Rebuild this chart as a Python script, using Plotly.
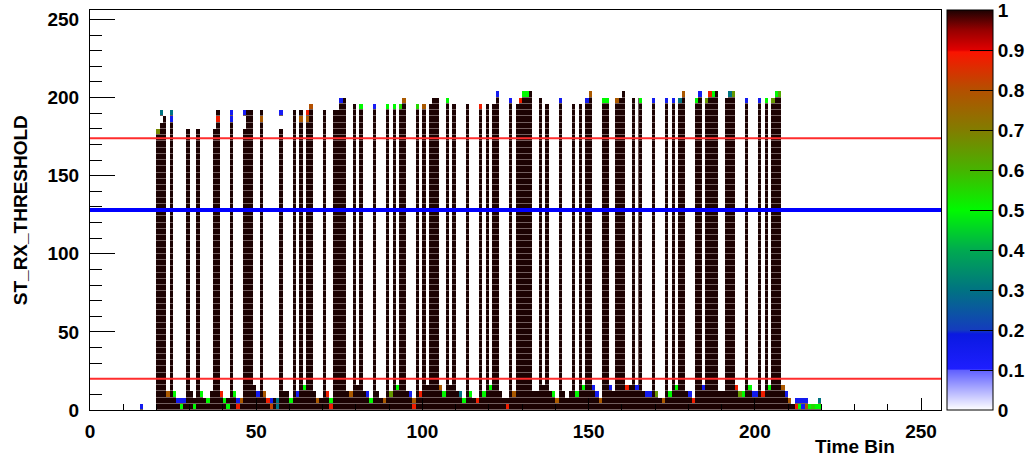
import plotly.graph_objects as go

# ---------------- data ----------------
N_TIME_BINS = 256
N_THR_BINS = 64          # threshold axis 0..256 in bins of 4
THR_BIN = 4

# tall columns: time bin and the height (threshold units) up to which occupancy == 1
col_bins = [20, 21, 22, 24, 29, 32, 37, 38, 42, 46, 47, 48, 51, 57, 61, 63, 65, 66, 70,
            73, 74, 75, 76, 79, 81, 85, 89, 91, 93, 94, 98, 100, 102, 103, 104, 107, 109,
            113, 117, 119, 121, 122, 126, 128, 129, 130, 131, 132, 135, 137, 141, 145, 147,
            149, 150, 154, 155, 158, 159, 160, 163, 165, 169, 173, 175, 177, 178, 182, 183,
            185, 186, 187, 188, 191, 192, 193, 197, 201, 203, 205, 206, 207]
col_tops = [176, 184, 188, 184, 180, 180, 180, 184, 184, 180, 192, 192, 184, 180, 192, 184, 184, 192, 192,
            192, 192, 196, 200, 196, 192, 192, 192, 192, 192, 196, 192, 192, 196, 200, 200, 196, 196,
            196, 192, 196, 196, 200, 196, 196, 196, 200, 200, 204, 200, 196, 196, 196, 196,
            196, 200, 196, 196, 196, 200, 204, 200, 196, 196, 196, 196, 196, 200, 196, 200,
            196, 200, 200, 204, 200, 200, 200, 196, 196, 196, 196, 200, 200]

# low "floor" between the columns: time bin and height with occupancy == 1
floor_bins = [23, 25, 26, 27, 28, 30, 31, 33, 34, 35, 36, 39, 40, 41, 43, 44, 45, 49, 50, 52,
              53, 54, 55, 56, 58, 59, 60, 62, 64, 67, 68, 69, 71, 72, 77, 78, 80, 82, 83, 84,
              86, 87, 88, 90, 92, 95, 96, 97, 99, 101, 105, 106, 108, 110, 111, 112, 114, 115,
              116, 118, 120, 123, 124, 125, 127, 133, 134, 136, 138, 139, 140, 142, 143, 144,
              146, 148, 151, 152, 153, 156, 157, 161, 162, 164, 166, 167, 168, 170, 171, 172,
              174, 176, 179, 180, 181, 184, 189, 190, 194, 195, 196, 198, 199, 200, 202, 204,
              208, 209, 210, 211]
floor_tops = [8, 8, 4, 4, 4, 12, 8, 8, 8, 4, 12, 8, 4, 8, 8, 4, 4, 16, 8, 8,
              4, 4, 8, 0, 12, 12, 4, 8, 12, 12, 4, 8, 8, 4, 12, 8, 16, 12, 8, 4,
              12, 8, 4, 8, 12, 12, 8, 4, 8, 16, 12, 8, 16, 12, 8, 4, 8, 8,
              4, 8, 12, 12, 8, 8, 8, 12, 12, 16, 12, 8, 4, 12, 8, 12,
              8, 12, 12, 8, 4, 12, 12, 12, 16, 12, 12, 8, 8, 8, 8, 4,
              8, 12, 12, 8, 4, 12, 12, 12, 12, 8, 8, 12, 8, 8, 8, 12,
              12, 8, 4, 4]

# individual cells with fractional occupancy: time bin, lower threshold edge, value
cell_bins = [20, 21, 24, 24, 38, 38, 42, 42, 46, 51, 51, 57, 63, 63, 65, 65, 66, 75, 81, 85,
             89, 91, 93, 94, 98, 100, 107, 117, 122, 126, 129, 130, 131, 141, 149, 150, 154,
             155, 158, 165, 169, 173, 175, 177, 178, 182, 183, 185, 186, 187, 192, 193, 197,
             201, 203, 205, 206, 207,
             15, 23, 25, 26, 27, 28, 27, 31, 33, 35, 39, 40, 41, 43, 44, 45, 44, 50, 52, 53,
             54, 54, 56, 56, 60, 62, 64, 68, 71, 72, 72, 78, 83, 84, 88, 90, 92, 96, 97, 97,
             99, 105, 106, 111, 112, 114, 116, 118, 120, 125, 127, 139, 140, 146, 148, 151,
             152, 153, 156, 161, 164, 167, 168, 170, 172, 174, 176, 180, 181, 184, 194, 195,
             196, 198, 199, 200, 202, 204, 208, 209, 210, 212, 213, 214, 215, 219, 212, 213,
             214, 215, 216, 217, 218, 219]
cell_ys = [176, 188, 184, 188, 184, 188, 184, 188, 188, 184, 188, 188, 184, 188, 184, 188, 192, 196, 192, 192,
           192, 192, 192, 196, 192, 192, 196, 192, 200, 196, 196, 200, 200, 196, 196, 200, 196,
           196, 196, 196, 196, 196, 196, 196, 200, 196, 200, 196, 200, 200, 200, 200, 196,
           196, 196, 196, 200, 200,
           0, 8, 8, 4, 4, 4, 0, 0, 8, 4, 8, 4, 0, 8, 4, 4, 0, 8, 8, 4,
           4, 0, 4, 0, 4, 8, 12, 4, 8, 4, 0, 8, 8, 4, 4, 8, 12, 8, 4, 0,
           8, 12, 8, 8, 4, 8, 4, 8, 12, 0, 8, 8, 4, 8, 12, 12,
           8, 4, 12, 12, 12, 8, 8, 8, 4, 8, 12, 8, 4, 12, 12, 8,
           8, 12, 8, 8, 8, 12, 12, 8, 4, 4, 4, 4, 4, 4, 0, 0,
           0, 0, 0, 0, 0, 0]
cell_vals = [0.68, 0.3, 0.15, 0.3, 0.88, 1.0, 0.15, 0.15, 0.13, 0.78, 1.0, 0.13, 0.78, 1.0, 0.78, 0.88, 0.8, 0.15, 0.5, 0.13,
             0.5, 0.5, 0.55, 0.78, 0.55, 0.78, 0.5, 0.88, 0.15, 0.13, 0.88, 0.5, 0.5, 0.15, 0.15, 0.78, 0.5,
             0.5, 0.78, 0.5, 0.15, 0.15, 0.15, 0.3, 0.78, 0.5, 0.15, 0.65, 0.88, 0.5, 0.3, 0.65, 0.15,
             0.15, 0.5, 0.65, 0.5, 0.62,
             0.15, 0.78, 0.5, 0.15, 0.15, 0.15, 0.5, 0.5, 0.5, 0.5, 0.88, 0.5, 0.5, 0.5, 0.15, 0.78, 0.88, 0.15, 0.78, 0.88,
             0.15, 0.82, 0.3, 0.3, 0.5, 0.15, 0.5, 0.78, 0.88, 0.5, 0.88, 0.78, 0.15, 0.5, 0.78, 0.65, 0.5, 0.15, 0.78, 0.88,
             0.88, 0.78, 0.5, 0.3, 0.5, 0.5, 0.88, 0.5, 0.5, 0.88, 0.78, 0.5, 0.78, 0.5, 0.5, 0.15,
             0.15, 0.78, 0.15, 0.88, 0.15, 0.15, 0.15, 0.65, 0.78, 0.5, 0.5, 0.15, 0.88, 0.15, 0.88, 0.65,
             0.5, 0.5, 0.15, 0.15, 0.88, 0.5, 0.78, 0.15, 0.78, 0.15, 0.15, 0.15, 0.15, 0.3, 0.88, 0.5,
             0.15, 0.78, 0.5, 0.55, 0.5, 0.5]

red_thresholds = [20, 174]
blue_threshold = 128

x_ticks = [0, 50, 100, 150, 200, 250]
y_ticks = [0, 50, 100, 150, 200, 250]
z_ticks = [0, 0.1, 0.2, 0.3, 0.4, 0.5, 0.6, 0.7, 0.8, 0.9, 1]
z_ticktext = ["0", "0.1", "0.2", "0.3", "0.4", "0.5", "0.6", "0.7", "0.8", "0.9", "1"]

# ---------------- build histogram ----------------
z = [[None] * N_TIME_BINS for _ in range(N_THR_BINS)]
for b, t in zip(floor_bins, floor_tops):
    for r in range(t // THR_BIN):
        z[r][b] = 1.0
for b, t in zip(col_bins, col_tops):
    for r in range(t // THR_BIN):
        z[r][b] = 1.0
for b, y, v in zip(cell_bins, cell_ys, cell_vals):
    z[y // THR_BIN][b] = v
# occupancy mask used as a faint underlay (gives the thin row seams of the original)
mask = [[(1 if v is not None else None) for v in row] for row in z]

colorscale = [
    [0.0, "rgb(255,255,255)"],
    [0.1, "rgb(95,95,255)"],
    [0.102, "rgb(30,30,255)"],
    [0.19, "rgb(10,25,225)"],
    [0.2, "rgb(20,60,190)"],
    [0.3, "rgb(0,115,130)"],
    [0.4, "rgb(0,170,80)"],
    [0.5, "rgb(0,250,0)"],
    [0.6, "rgb(70,180,0)"],
    [0.7, "rgb(130,125,0)"],
    [0.8, "rgb(180,80,0)"],
    [0.895, "rgb(250,20,0)"],
    [0.9, "rgb(225,0,0)"],
    [0.95, "rgb(150,0,0)"],
    [1.0, "rgb(28,2,2)"],
]

FONT = "Liberation Sans"
fig = go.Figure()
fig.add_trace(go.Heatmap(
    z=mask, x0=0.5, dx=1, y0=THR_BIN / 2, dy=THR_BIN, zmin=0, zmax=1,
    colorscale=[[0, "rgb(115,95,95)"], [1, "rgb(115,95,95)"]],
    showscale=False, hoverinfo="skip", zsmooth=False,
))
fig.add_trace(go.Heatmap(
    z=z, x0=0.5, dx=1, y0=THR_BIN / 2, dy=THR_BIN, ygap=1,
    zmin=0, zmax=1, colorscale=colorscale, zsmooth=False, hoverongaps=False,
    colorbar=dict(
        thickness=46, lenmode="pixels", len=400, y=0.5, yanchor="middle",
        x=1.007, xanchor="left", xpad=0, ypad=0,
        outlinewidth=1, outlinecolor="black",
        tickvals=z_ticks, ticktext=z_ticktext, ticks="inside", ticklen=23,
        tickcolor="black", tickwidth=1, ticklabeloverflow="allow",
        tickfont=dict(family=FONT, size=19, color="black", weight="bold"),
    ),
))

for yv in red_thresholds:
    fig.add_shape(type="line", x0=0, x1=N_TIME_BINS, y0=yv, y1=yv, xref="x", yref="y",
                  line=dict(color="rgb(255,45,45)", width=2), layer="above")
fig.add_shape(type="line", x0=0, x1=N_TIME_BINS, y0=blue_threshold, y1=blue_threshold,
              xref="x", yref="y", line=dict(color="rgb(0,0,255)", width=4), layer="above")

axis_common = dict(showgrid=False, zeroline=False, showline=True, linecolor="black",
                   linewidth=1, mirror=True, ticks="inside", tickcolor="black", tickwidth=1,
                   tickfont=dict(family=FONT, size=19, color="black", weight="bold"))
fig.update_xaxes(range=[0, N_TIME_BINS], tickvals=x_ticks, ticklen=12,
                 minor=dict(dtick=10, ticks="inside", ticklen=6, tickcolor="black"),
                 ticklabelstandoff=4, **axis_common)
fig.update_yaxes(range=[0, N_TIME_BINS], tickvals=y_ticks, ticklen=25,
                 minor=dict(dtick=10, ticks="inside", ticklen=12, tickcolor="black"),
                 ticklabelstandoff=6, **axis_common)

fig.add_annotation(text="Time Bin", xref="paper", yref="paper", x=0.948, y=-0.09,
                   xanchor="right", yanchor="middle", showarrow=False,
                   font=dict(family=FONT, size=19, color="black", weight="bold"))
fig.add_annotation(text="ST_RX_THRESHOLD", xref="paper", yref="paper", x=-0.082, y=0.5,
                   xanchor="center", yanchor="middle", showarrow=False, textangle=-90,
                   font=dict(family=FONT, size=19, color="black", weight="bold"))

fig.update_layout(
    width=1032, height=460, margin=dict(l=90, r=91, t=10, b=50, autoexpand=False),
    paper_bgcolor="white", plot_bgcolor="white", showlegend=False,
)
fig.write_html("out.html")
